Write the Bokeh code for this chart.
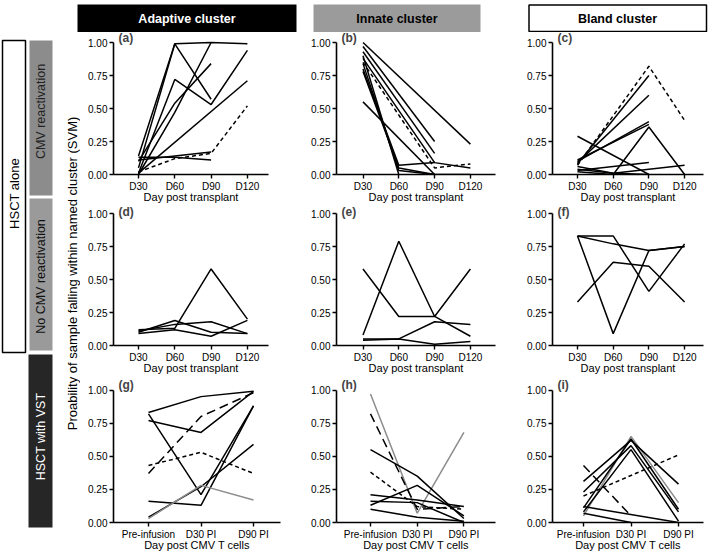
import math
from bokeh.plotting import figure
from bokeh.layouts import row, column
from bokeh.models import Range1d, FixedTicker, Label, NumeralTickFormatter
from bokeh.core.properties import value
from bokeh.embed import file_html
from bokeh.resources import INLINE

FONT = "Liberation Sans"
N = None

# ---------------- texts ----------------
tx_days = ["D30", "D60", "D90", "D120"]
vst_days = ["Pre-infusion", "D30 PI", "D90 PI"]
tx_title = "Day post transplant"
vst_title = "Day post CMV T cells"
col_titles = ["Adaptive cluster", "Innate cluster", "Bland cluster"]
row_titles = ["CMV reactivation", "No CMV reactivation", "HSCT with VST"]
group_title = "HSCT alone"
y_title = "Proability of sample falling within named cluster (SVM)"
tags = ["(a)", "(b)", "(c)", "(d)", "(e)", "(f)", "(g)", "(h)", "(i)"]

# ---------------- data (one list per patient line) ----------------
# kinds: s = solid black, d = short dash, l = long dash, g = grey
a_vals = [[0.05, 0.99, 1.00, 0.99],
          [0.14, 0.99, 0.57, N],
          [0.01, 0.72, 0.53, 0.94],
          [0.10, 0.54, 0.84, N],
          [0.00, 0.47, 1.00, N],
          [0.01, N, N, 0.71],
          [0.02, 0.12, 0.16, 0.52],
          [0.13, 0.13, 0.11, N],
          [0.11, 0.14, 0.17, N]]
a_kind = ["s", "s", "s", "s", "s", "s", "d", "s", "s"]

b_vals = [[1.00, N, N, 0.23],
          [0.97, N, 0.25, N],
          [0.93, N, 0.16, N],
          [0.88, N, 0.09, 0.05],
          [0.85, N, 0.05, 0.08],
          [0.90, 0.00, N, N],
          [0.84, 0.03, 0.00, N],
          [0.80, 0.07, 0.09, N],
          [0.78, 0.05, 0.00, 0.00],
          [0.55, N, 0.00, N]]
b_kind = ["s", "s", "s", "s", "d", "s", "s", "s", "s", "s"]

c_vals = [[0.07, N, 0.82, 0.41],
          [0.08, N, 0.75, N],
          [0.09, N, 0.60, N],
          [0.10, N, 0.40, N],
          [0.11, N, 0.38, N],
          [0.02, 0.00, 0.36, 0.00],
          [0.29, N, 0.00, N],
          [0.03, N, 0.09, N],
          [0.04, 0.01, N, 0.07],
          [0.06, 0.01, 0.00, N]]
c_kind = ["d", "s", "s", "s", "s", "s", "s", "s", "s", "s"]

d_vals = [[0.12, 0.13, 0.58, 0.20],
          [0.10, 0.19, 0.10, 0.09],
          [0.11, 0.16, 0.18, 0.09],
          [0.09, 0.12, 0.07, 0.19]]
d_kind = ["s", "s", "s", "s"]

e_vals = [[0.58, 0.22, 0.22, 0.07],
          [0.08, 0.79, 0.22, 0.58],
          [0.05, 0.05, 0.18, 0.16],
          [0.04, 0.05, 0.01, 0.03]]
e_kind = ["s", "s", "s", "s"]

f_vals = [[0.83, 0.83, 0.41, 0.77],
          [0.83, 0.09, 0.72, 0.75],
          [0.83, 0.77, 0.72, 0.75],
          [0.33, 0.63, 0.60, 0.33]]
f_kind = ["s", "s", "s", "s"]

g_vals = [[0.83, 0.95, 0.99],
          [0.82, 0.21, 0.88],
          [0.77, 0.68, 0.99],
          [0.37, 0.80, 0.98],
          [0.43, 0.53, 0.37],
          [0.16, 0.13, 0.88],
          [0.04, 0.27, 0.59],
          [0.03, 0.28, 0.17]]
g_kind = ["s", "s", "s", "l", "d", "s", "s", "g"]

h_vals = [[0.97, 0.07, 0.68],
          [0.82, 0.10, 0.12],
          [0.55, 0.35, 0.03],
          [0.38, 0.12, 0.10],
          [0.13, 0.28, 0.05],
          [0.21, 0.17, 0.12],
          [0.16, 0.15, 0.00],
          [0.10, 0.04, 0.01]]
h_kind = ["g", "l", "s", "d", "s", "s", "s", "s"]

i_vals = [[0.05, 0.65, 0.15],
          [0.31, 0.62, 0.29],
          [0.23, 0.58, 0.08],
          [0.11, 0.63, 0.10],
          [0.08, 0.55, 0.01],
          [0.20, N, 0.51],
          [0.43, 0.05, N],
          [0.12, N, 0.00],
          [0.07, 0.00, N]]
i_kind = ["g", "s", "s", "s", "s", "d", "l", "s", "s"]

# ---------------- styles / layout ----------------
STYLE = {"s": ("black", "solid"), "d": ("black", "4 3"),
         "l": ("black", "9 5"), "g": ("#8c8c8c", "solid")}
LW = 1.5
B = 31                       # bottom border for x axis


def deco_fig(x0, x1, y0, y1):
    p = figure(width=x1 - x0, height=y1 - y0, x_range=Range1d(x0, x1),
               y_range=Range1d(-y1, -y0), output_backend="svg",
               toolbar_location=None, x_axis_type=None, y_axis_type=None,
               min_border=0)
    p.grid.visible = False
    p.outline_line_color = None
    return p


def box(p, l, r, t, b, fill, line=None):
    p.quad(left=[l], right=[r], top=[-t], bottom=[-b], fill_color=fill,
           line_color=line, line_width=1.5)


def txt(p, x, y, s, color="black", size="13px", bold=False, angle=0.0):
    p.text(x=[x], y=[-y], text=[s], text_font=value(FONT), text_font_size=size,
           text_color=color, text_align="center", text_baseline="middle",
           text_font_style="bold" if bold else "normal", angle=angle)


def draw(p, vals, kinds):
    for v, k in zip(vals, kinds):
        xs = [i + 1 for i, y in enumerate(v) if y is not None]
        ys = [y for y in v if y is not None]
        col, dash = STYLE[k]
        p.line(xs, ys, line_color=col, line_dash=dash, line_width=LW)


def panel(fig_l, fig_r, frame_l, tick1, ux, axis_end, top, y1, y0, tag_y,
          labels, xtitle, tag, vals, kinds):
    W = fig_r - fig_l
    H = (y0 + B) - top
    x_start = 1 - (tick1 - frame_l) / ux
    x_end = 1 + (axis_end - tick1) / ux
    uy = y0 - y1
    y_end = (y0 - top) / uy
    p = figure(width=W, height=H, x_range=Range1d(x_start, x_end),
               y_range=Range1d(0, y_end), output_backend="svg",
               toolbar_location=None, min_border_left=frame_l - fig_l,
               min_border_right=fig_r - axis_end, min_border_top=0,
               min_border_bottom=B)
    p.grid.visible = False
    p.outline_line_color = None
    draw(p, vals, kinds)
    ticks = list(range(1, len(labels) + 1))
    p.xaxis.ticker = FixedTicker(ticks=ticks)
    p.xaxis.major_label_overrides = {t: s for t, s in zip(ticks, labels)}
    p.xaxis.axis_label = xtitle
    p.yaxis.ticker = FixedTicker(ticks=[0, 0.25, 0.5, 0.75, 1.0])
    p.yaxis.formatter = NumeralTickFormatter(format="0.00")
    p.yaxis.bounds = (0, 1)
    for ax in (p.xaxis[0], p.yaxis[0]):
        ax.axis_line_width = 1.6
        ax.axis_line_color = "black"
        ax.major_tick_line_width = 1.4
        ax.major_tick_line_color = "black"
        ax.major_tick_out = 4
        ax.major_tick_in = 0
        ax.minor_tick_line_color = None
        ax.major_label_text_font = FONT
        ax.major_label_text_font_size = "10px"
        ax.major_label_text_color = "black"
        ax.major_label_standoff = 2
        ax.axis_label_text_font = FONT
        ax.axis_label_text_font_size = "11px"
        ax.axis_label_text_font_style = "normal"
        ax.axis_label_text_color = "black"
        ax.axis_label_standoff = -4
    p.add_layout(Label(x=x_start + 5 / ux, y=(y0 - tag_y) / uy, text=tag,
                       text_font=FONT, text_font_size="12px",
                       text_font_style="bold", text_baseline="middle"))
    return p


# header across the full width (page coordinates, origin top-left)
TOP = 32
head = deco_fig(0, 709, 0, TOP)
box(head, 77, 296, 4, 31.5, "black")
txt(head, 186.5, 18, col_titles[0], color="white", size="12.5px", bold=True)
box(head, 313, 480, 4, 31.5, "#9b9b9b")
txt(head, 396.5, 18, col_titles[1], color="black", size="12.5px", bold=True)
box(head, 528.5, 706, 4.5, 31, "white", "black")
txt(head, 617, 18, col_titles[2], color="black", size="12.5px", bold=True)

# left decoration
left = deco_fig(0, 80, TOP, 553)
box(left, 2, 25, 40, 352, "white", "black")
txt(left, 13.5, 193, group_title, angle=math.pi / 2)
box(left, 29, 52, 40, 195, "#8c8c8c")
txt(left, 40.5, 111, row_titles[0], color="#222222", size="12.5px", angle=math.pi / 2)
box(left, 29, 52, 198, 350, "#9a9a9a")
txt(left, 40.5, 276, row_titles[1], color="#111111", size="12.5px", angle=math.pi / 2)
box(left, 28, 52, 354, 527, "#262626")
txt(left, 40, 436, row_titles[2], color="white", size="12.5px", angle=math.pi / 2)
txt(left, 71.5, 273, y_title, angle=math.pi / 2)

# columns: (fig_l, fig_r, frame_l) ; rows: (top, y=1 px, y=0 px, tag centre)
C1, C2, C3 = (80, 300, 113), (300, 520, 336), (520, 709, 552)
R1 = (TOP, 42, 174, 37.5)
R2 = (205, 213, 345, 211)
R3 = (376, 389.5, 522, 384.5)

pa = panel(*C1, 138, 36.3, 268, *R1, tx_days, tx_title, tags[0], a_vals, a_kind)
pb = panel(*C2, 362.5, 35.8, 495, *R1, tx_days, tx_title, tags[1], b_vals, b_kind)
pc = panel(*C3, 577, 35.7, 703, *R1, tx_days, tx_title, tags[2], c_vals, c_kind)
pd = panel(*C1, 138, 36.3, 268, *R2, tx_days, tx_title, tags[3], d_vals, d_kind)
pe = panel(*C2, 362.5, 35.8, 495, *R2, tx_days, tx_title, tags[4], e_vals, e_kind)
pf = panel(*C3, 577, 35.7, 703, *R2, tx_days, tx_title, tags[5], f_vals, f_kind)
pg = panel(*C1, 148, 52.5, 280, *R3, vst_days, vst_title, tags[6], g_vals, g_kind)
ph = panel(*C2, 370, 46.7, 495, *R3, vst_days, vst_title, tags[7], h_vals, h_kind)
pi = panel(*C3, 583, 47.5, 703, *R3, vst_days, vst_title, tags[8], i_vals, i_kind)

layout = column(head, row(left, column(row(pa, pb, pc), row(pd, pe, pf),
                                       row(pg, ph, pi))))

open("out.html", "w").write(file_html(layout, INLINE))
